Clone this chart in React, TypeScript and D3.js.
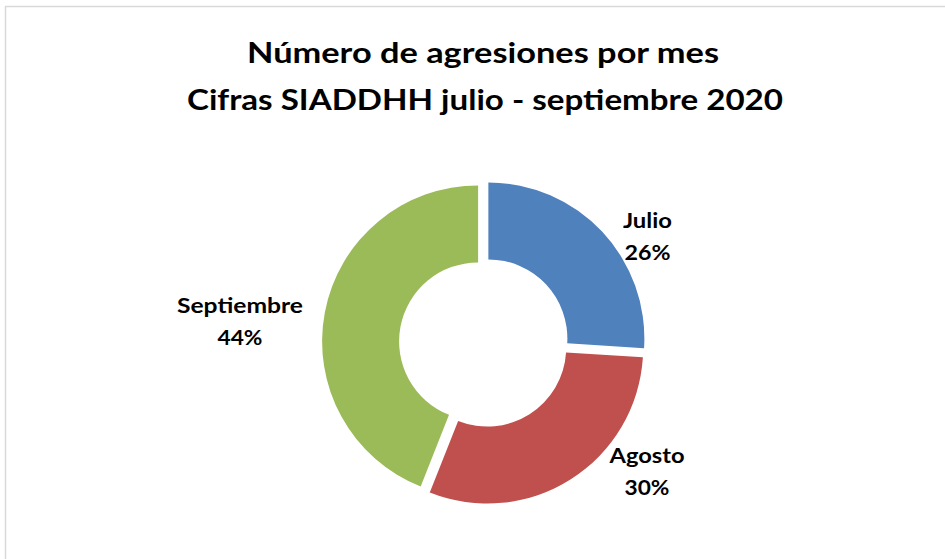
import React from "react";
import * as d3 from "d3";

const categories = ["Julio", "Agosto", "Septiembre"];
const values = [26, 30, 44];
const colors = ["#4F81BD", "#C0504D", "#9BBB59"];
const titleLines = ["Número de agresiones por mes", "Cifras SIADDHH julio - septiembre 2020"];

const W = 945;
const H = 559;
const FONT = "Lato, 'Open Sans', sans-serif";

export default function App() {
  const cx = 484;
  const cy = 342.5;
  const R = 156;
  const r = 79;
  const explode = 6;

  const pie = d3.pie<number>().sort(null).startAngle(0).endAngle(2 * Math.PI);
  const arcs = pie(values);
  const arcGen = d3.arc<d3.PieArcDatum<number>>().innerRadius(r).outerRadius(R);
  const total = d3.sum(values);

  // layout: title line geometry and label anchors (polar from centre)
  const titleLayout = [
    { x: 483, y: 63, len: 472 },
    { x: 485, y: 110, len: 596 },
  ];
  const labelLayout = [
    { ang: 54.9, rad: 199.8, len1: 49, len2: 46 },
    { ang: 126.4, rad: 202.5, len1: 75, len2: 45 },
    { ang: 276.96, rad: 245.8, len1: 126, len2: 45 },
  ];

  return (
    <svg
      width={W}
      height={H}
      style={{ position: "absolute", left: 0, top: 0, background: "#fff" }}
      fontFamily={FONT}
    >
      <rect x={0} y={0} width={W} height={H} fill="#fff" />
      <rect x={5.5} y={6.5} width={W + 20} height={H + 20} fill="#fff" stroke="#d9d9d9" strokeWidth={1.5} />
      {titleLines.map((t, i) => (
        <text
          key={i}
          x={titleLayout[i].x}
          y={titleLayout[i].y}
          textAnchor="middle"
          fontSize={29}
          fontWeight="bold"
          fill="#000"
          textLength={titleLayout[i].len}
          lengthAdjust="spacingAndGlyphs"
        >
          {t}
        </text>
      ))}
      {arcs.map((a, i) => {
        const mid = (a.startAngle + a.endAngle) / 2;
        const dx = explode * Math.sin(mid);
        const dy = -explode * Math.cos(mid);
        return (
          <path
            key={categories[i]}
            d={arcGen(a) || ""}
            transform={`translate(${cx + dx},${cy + dy})`}
            fill={colors[i]}
          />
        );
      })}
      {arcs.map((a, i) => {
        const L = labelLayout[i];
        const ang = (L.ang * Math.PI) / 180;
        const x = cx + L.rad * Math.sin(ang);
        const y = cy - L.rad * Math.cos(ang);
        const pct = d3.format(".0%")(a.value / total);
        return (
          <g key={categories[i]} fontSize={21} fontWeight="bold" fill="#000" textAnchor="middle">
            <text x={x} y={y} textLength={L.len1} lengthAdjust="spacingAndGlyphs">
              {categories[i]}
            </text>
            <text x={x} y={y + 32.5} textLength={L.len2} lengthAdjust="spacingAndGlyphs">
              {pct}
            </text>
          </g>
        );
      })}
    </svg>
  );
}
